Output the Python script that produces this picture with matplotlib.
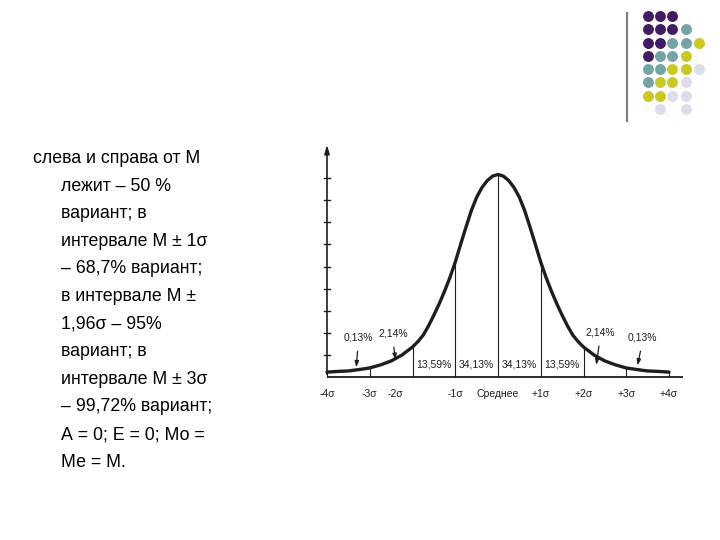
import matplotlib
matplotlib.use("Agg")
import matplotlib.pyplot as plt

# ---------------- data ----------------
sigma_x = [-4.0, -3.75, -3.5, -3.25, -3.0, -2.75, -2.5, -2.25, -2.0, -1.875, -1.75, -1.625,
           -1.5, -1.375, -1.25, -1.125, -1.0, -0.875, -0.75, -0.625, -0.5, -0.375, -0.25,
           -0.125, 0.0, 0.125, 0.25, 0.375, 0.5, 0.625, 0.75, 0.875, 1.0, 1.125, 1.25,
           1.375, 1.5, 1.625, 1.75, 1.875, 2.0, 2.25, 2.5, 2.75, 3.0, 3.25, 3.5, 3.75, 4.0]
curve_h = [0.21, 0.24, 0.26, 0.32, 0.39, 0.52, 0.69, 0.94, 1.29, 1.52, 1.80, 2.20,
           2.66, 3.15, 3.69, 4.28, 4.94, 5.70, 6.44, 7.15, 7.73, 8.15, 8.45,
           8.64, 8.71, 8.64, 8.45, 8.15, 7.73, 7.15, 6.44, 5.70, 4.94, 4.28, 3.69,
           3.15, 2.66, 2.20, 1.80, 1.52, 1.29, 0.94, 0.69, 0.52, 0.39, 0.32, 0.26, 0.24, 0.21]
vline_x = [-4, -3, -2, -1, 0, 1, 2, 3, 4]
tick_pos = [-4, -3, -2.4, -1, 0, 1, 2, 3, 4]
tick_labels = ["-4\u03c3", "-3\u03c3", "-2\u03c3", "-1\u03c3", "Среднее",
               "+1\u03c3", "+2\u03c3", "+3\u03c3", "+4\u03c3"]
band_x = [-1.5, -0.5, 0.5, 1.5]
band_labels = ["13,59%", "34,13%", "34,13%", "13,59%"]
tail_labels = ["0,13%", "2,14%", "2,14%", "0,13%"]
tail_text_xy = [(-3.27, 1.68), (-2.46, 1.85), (2.39, 1.90), (3.37, 1.68)]
tail_tip_xy = [(-3.32, 0.30), (-2.39, 0.62), (2.29, 0.40), (3.25, 0.38)]
yaxis_ticks = [1, 2, 3, 4, 5, 6, 7, 8, 9]

body_lines = ["слева и справа от М", "лежит – 50 %", "вариант; в", "интервале М ± 1σ",
              "– 68,7% вариант;", "в интервале М ±", "1,96σ – 95%", "вариант; в",
              "интервале М ± 3σ", "– 99,72% вариант;", "А = 0; Е = 0; Мо =", "Ме = М."]

dot_rows = [
    ["P", "P", "P", "", ""],
    ["P", "P", "P", "T", ""],
    ["P", "P", "T", "T", "Y"],
    ["P", "T", "T", "Y", ""],
    ["T", "T", "Y", "Y", "L"],
    ["T", "Y", "Y", "L", ""],
    ["Y", "Y", "L", "L", ""],
    ["", "L", "", "L", ""],
]
dot_colors = {"P": "#421C63", "T": "#74A5A5", "Y": "#C9C922", "L": "#DCDCEC"}

# ---------------- figure ----------------
fig = plt.figure(figsize=(7.2, 5.4), dpi=100)
fig.patch.set_facecolor("white")

small = ["Liberation Sans", "DejaVu Sans"]
ink = "#1e1e1e"

# overlay for decorations in pixel coordinates
deco = fig.add_axes([0, 0, 1, 1])
deco.set_xlim(0, 720)
deco.set_ylim(540, 0)
deco.axis("off")
deco.plot([627, 627], [13, 121], color="#7f7f7f", lw=1.6)
col_x = [648, 660, 672, 686, 699]
row_y = [16, 29, 43, 56, 69, 82, 96, 109]
for r, row in enumerate(dot_rows):
    for c, key in enumerate(row):
        if key:
            deco.scatter(col_x[c], row_y[r], s=62, color=dot_colors[key], lw=0)

# body text
for i, line in enumerate(body_lines):
    x = 33 if i == 0 else 61
    y = 163 + i * 27.6
    fig.text(x / 720, 1 - y / 540, line, fontsize=12.8, family=["Liberation Sans", "DejaVu Sans"],
             color="black", va="baseline", ha="left")

# chart axes
left_px, right_px = 498 - 42.75 * 4.25, 498 + 42.75 * 4.45
top_px, bot_px = 377 - 10.4 * 23.25, 377 + 0.3 * 23.25
ax = fig.add_axes([left_px / 720, 1 - bot_px / 540, (right_px - left_px) / 720,
                   (bot_px - top_px) / 540])
ax.set_xlim(-4.25, 4.45)
ax.set_ylim(-0.3, 10.4)
ax.axis("off")

# axes lines
ax.plot([-4, 4.33], [0, 0], color=ink, lw=1.3, solid_capstyle="butt")
ax.annotate("", xy=(-4, 10.1), xytext=(-4, 0),
            arrowprops=dict(arrowstyle="-|>,head_length=0.5,head_width=0.15", color=ink, lw=1.2))
for t in yaxis_ticks:
    ax.plot([-4.07, -3.93], [t * 0.95, t * 0.95], color=ink, lw=1.0)

# vertical lines
for vx in vline_x:
    h = curve_h[sigma_x.index(float(vx))]
    ax.plot([vx, vx], [0, h], color=ink, lw=0.8)

# curve
ax.plot(sigma_x, curve_h, color=ink, lw=2.4, solid_capstyle="round", solid_joinstyle="round")

# tick labels
for p, lab in zip(tick_pos, tick_labels):
    ax.text(p, -0.72, lab, fontsize=7.5, family=small, color=ink, ha="center", va="center")

# band labels
for bx, lab in zip(band_x, band_labels):
    ax.text(bx, 0.52, lab, fontsize=7.5, family=small, color=ink, ha="center", va="center")

# tail labels with arrows
for lab, (tx, ty), (px, py) in zip(tail_labels, tail_text_xy, tail_tip_xy):
    ax.text(tx, ty, lab, fontsize=7.5, family=small, color=ink, ha="center", va="center")
    ax.annotate("", xy=(px, py), xytext=(tx + (px - tx) * 0.2, ty - 0.45),
                arrowprops=dict(arrowstyle="-|>,head_length=0.35,head_width=0.12", color=ink, lw=0.9))

fig.savefig("out.png", dpi=100, facecolor="white")
